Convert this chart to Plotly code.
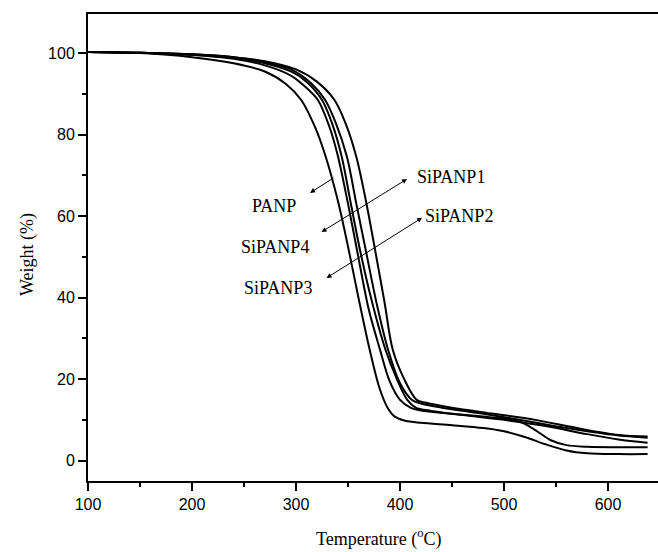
import plotly.graph_objects as go

# ---- data ----
t_sipanp3 = [100, 150, 200, 240, 270, 290, 305, 318, 328, 340, 350, 360, 371, 380, 388, 395, 405, 420, 450, 480, 500, 520, 540, 560, 580, 610, 638]
w_sipanp3 = [100.3, 100.0, 99.0, 97.5, 95.5, 92.5, 88.5, 82, 75, 64, 52.5, 40, 27, 18, 13, 10.8, 9.8, 9.3, 8.7, 8.0, 7.2, 5.8, 4.0, 2.5, 1.8, 1.6, 1.6]

t_panp = [100, 150, 200, 240, 270, 295, 310, 321, 332, 340, 350, 358.6, 370, 381, 390, 400, 410, 420, 450, 480, 500, 515, 530, 545, 560, 580, 610, 638]
w_panp = [100.3, 100.1, 99.6, 98.6, 97.0, 94.5, 91.5, 88.5, 82, 75, 63, 51.7, 37, 27, 19.5, 14.9, 13, 12.3, 11.5, 10.8, 10.3, 9.6, 7.5, 5.0, 3.8, 3.4, 3.3, 3.3]

t_sipanp4 = [100, 150, 200, 240, 270, 295, 310, 325, 335, 344, 352, 361.5, 372, 386, 397, 407, 415, 430, 460, 500, 540, 580, 610, 638]
w_sipanp4 = [100.3, 100.1, 99.6, 98.8, 97.5, 95.5, 93, 88.5, 82.5, 74.5, 64, 51.7, 40, 27.2, 20, 14.9, 13, 12.2, 11.2, 10, 8.5, 6.5, 5.2, 4.4]

t_sipanp2 = [100, 150, 200, 240, 270, 295, 315, 328, 338, 349, 358, 367, 378, 388.5, 400, 411.5, 420, 440, 480, 520, 560, 600, 638]
w_sipanp2 = [100.3, 100.1, 99.7, 99, 97.8, 96, 92.5, 88.5, 83, 74.5, 63, 51.7, 38, 27.2, 19, 14.9, 14, 13, 11.5, 9.8, 8, 6.5, 5.6]

t_sipanp1 = [100, 150, 200, 240, 270, 300, 320, 337, 348, 358, 367, 376, 385, 393, 404, 416, 425, 450, 490, 530, 570, 610, 638]
w_sipanp1 = [100.3, 100.1, 99.7, 99, 98, 96, 93, 88.5, 82.5, 74.5, 64, 51.7, 39, 27.2, 20, 14.9, 14.2, 13, 11.5, 10, 8, 6.3, 5.9]

series = [
    ("SiPANP3", t_sipanp3, w_sipanp3),
    ("PANP", t_panp, w_panp),
    ("SiPANP4", t_sipanp4, w_sipanp4),
    ("SiPANP2", t_sipanp2, w_sipanp2),
    ("SiPANP1", t_sipanp1, w_sipanp1),
]

x_ticks = [100, 200, 300, 400, 500, 600]
y_ticks = [0, 20, 40, 60, 80, 100]

fig = go.Figure()
for name, t, w in series:
    fig.add_trace(go.Scatter(x=t, y=w, mode="lines", name=name,
                             line=dict(color="black", width=2, shape="spline", smoothing=0.9),
                             showlegend=False))

serif = "Liberation Serif, Times New Roman, serif"
sans = "Liberation Sans, Arial, sans-serif"

# labels
labels = [
    ("PANP", 278.8, 62.4, "center"),
    ("SiPANP4", 279.8, 52.5, "center"),
    ("SiPANP3", 282.7, 42.3, "center"),
    ("SiPANP1", 414.4, 69.6, "left"),
    ("SiPANP2", 422.1, 60.0, "left"),
]
for txt, x, y, anc in labels:
    fig.add_annotation(x=x, y=y, text=txt, showarrow=False, xanchor=anc, yanchor="middle",
                       font=dict(family=serif, size=18, color="black"))

# arrows: (head x, head y, tail x, tail y, sides)
arrows = [
    (313.5, 65.7, 337.5, 69.6, "end"),
    (406.7, 69.1, 323.1, 55.9, "end+start"),
    (421.2, 59.6, 327.9, 44.6, "end+start"),
]
for hx, hy, tx, ty, side in arrows:
    fig.add_annotation(x=hx, y=hy, ax=tx, ay=ty, axref="x", ayref="y", xref="x", yref="y",
                       text="", showarrow=True, arrowhead=2, arrowsize=1, arrowwidth=1,
                       arrowcolor="black", arrowside=side)

# axis titles
fig.add_annotation(xref="paper", yref="paper", x=0.5105, y=-0.122, text="Temperature (<sup>o</sup>C)",
                   showarrow=False, xanchor="center", yanchor="middle",
                   font=dict(family=serif, size=18, color="black"))
fig.add_annotation(xref="paper", yref="paper", x=-0.105, y=0.484, text="Weight (%)", textangle=-90,
                   showarrow=False, xanchor="center", yanchor="middle",
                   font=dict(family=serif, size=18, color="black"))

fig.update_layout(
    width=658, height=552,
    margin=dict(l=88, r=0, t=14, b=71, autoexpand=False),
    plot_bgcolor="white", paper_bgcolor="white",
    font=dict(family=sans, size=16, color="black"),
)
fig.update_xaxes(
    range=[100, 648], tickvals=x_ticks, ticks="outside", ticklen=8, tickwidth=1.5, tickcolor="black",
    showline=True, linecolor="black", linewidth=2, mirror=True, showgrid=False, zeroline=False,
    automargin=False,
    tickfont=dict(family=sans, size=16, color="black"),
    minor=dict(dtick=50, tick0=100, ticks="outside", ticklen=4, tickwidth=1.5, tickcolor="black", showgrid=False),
)
fig.update_yaxes(
    range=[-5, 109.6], tickvals=y_ticks, ticks="outside", ticklen=8, tickwidth=1.5, tickcolor="black",
    showline=True, linecolor="black", linewidth=2, mirror=False, showgrid=False, zeroline=False,
    automargin=False,
    tickfont=dict(family=sans, size=16, color="black"),
    minor=dict(dtick=10, tick0=0, ticks="outside", ticklen=4, tickwidth=1.5, tickcolor="black", showgrid=False),
)

fig.write_html("out.html", config={"displayModeBar": False},
               post_script="document.body.style.margin='0';document.body.style.overflow='hidden';")
